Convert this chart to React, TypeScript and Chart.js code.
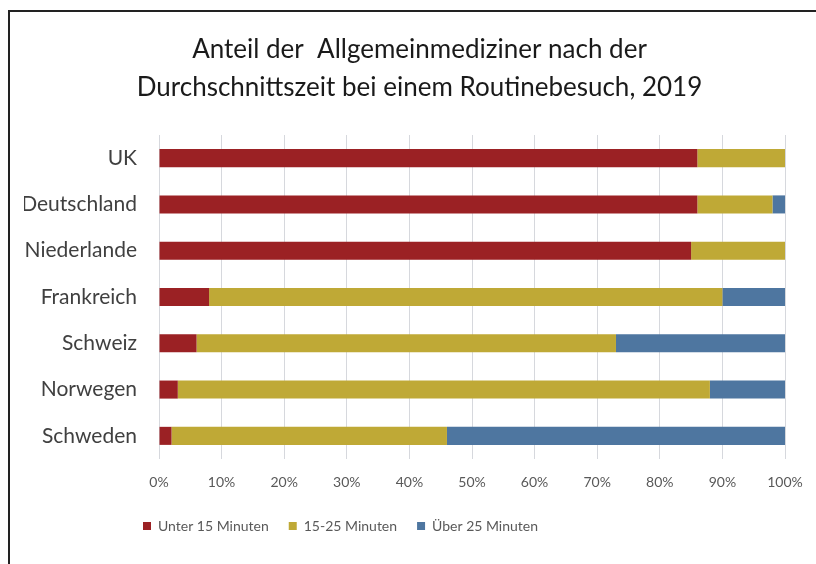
import { useEffect, useRef } from "react";
import { Chart, registerables } from "chart.js";

Chart.register(...registerables);

const titleLines = [
  "Anteil der  Allgemeinmediziner nach der",
  "Durchschnittszeit bei einem Routinebesuch, 2019",
];
const countries = ["UK", "Deutschland", "Niederlande", "Frankreich", "Schweiz", "Norwegen", "Schweden"];
const seriesNames = ["Unter 15 Minuten", "15-25 Minuten", "Über 25 Minuten"];
const under15 = [86, 86, 85, 8, 6, 3, 2];
const from15to25 = [14, 12, 15, 82, 67, 85, 44];
const over25 = [0, 2, 0, 10, 27, 12, 54];
const seriesColors = ["#9B2124", "#BFA936", "#4E76A0"];

const FONT = "Lato, 'Open Sans', sans-serif";

const PAD_L = 14;
const PAD_R = 31;

const boxShift = {
  id: "boxShift",
  afterLayout(chart: any) {
    const l = chart.legend;
    if (l) {
      l.left += 99;
      l.right += 99;
    }
    const t = chart.titleBlock;
    if (t) {
      t.left += 15;
      t.right += 15;
    }
  },
};

export default function App() {
  const ref = useRef<HTMLCanvasElement | null>(null);

  useEffect(() => {
    if (!ref.current) return;
    const chart = new Chart(ref.current, {
      type: "bar",
      data: {
        labels: countries,
        datasets: [under15, from15to25, over25].map((d, i) => ({
          label: seriesNames[i],
          data: d,
          backgroundColor: seriesColors[i],
          borderWidth: 0,
          categoryPercentage: 1,
          barPercentage: 0.39,
        })),
      },
      options: {
        indexAxis: "y",
        responsive: false,
        animation: false,
        devicePixelRatio: 1,
        layout: { padding: { top: 0, left: PAD_L, right: PAD_R, bottom: 21 } },
        scales: {
          x: {
            stacked: true,
            min: 0,
            max: 100,
            ticks: {
              stepSize: 10,
              padding: 15,
              maxRotation: 0,
              color: "#595959",
              font: { family: FONT, size: 14 },
              callback: (v: any) => v + "%",
            },
            grid: { color: "#d6d8dd", drawTicks: false },
            border: { display: false },
            afterFit: (s: any) => {
              s.height = 40;
              s.paddingLeft = 0;
              s.paddingRight = 0;
            },
          },
          y: {
            stacked: true,
            ticks: {
              padding: 22,
              color: "#404040",
              font: { family: FONT, size: 21 },
            },
            grid: { display: false, drawTicks: false },
            border: { display: false },
            afterFit: (s: any) => {
              s.width = 149 - PAD_L;
            },
          },
        },
        plugins: {
          title: {
            display: true,
            text: titleLines,
            color: "#1a1a1a",
            font: { family: FONT, size: 26, weight: "normal", lineHeight: 38 / 26 },
            padding: { top: 19, bottom: 28 },
          },
          legend: {
            position: "bottom",
            align: "start",
            labels: {
              boxWidth: 8,
              boxHeight: 8,
              padding: 20,
              color: "#595959",
              font: { family: FONT, size: 14 },
            },
          },
          tooltip: { enabled: false },
        },
      },
      plugins: [boxShift],
    } as any);
    return () => chart.destroy();
  }, []);

  return (
    <div
      style={{
        position: "absolute",
        left: 8,
        top: 10,
        width: 806,
        height: 552,
        borderLeft: "2px solid #222",
        borderTop: "2px solid #222",
        background: "#fff",
      }}
    >
      <canvas ref={ref} width={806} height={552} style={{ display: "block" }} />
    </div>
  );
}
